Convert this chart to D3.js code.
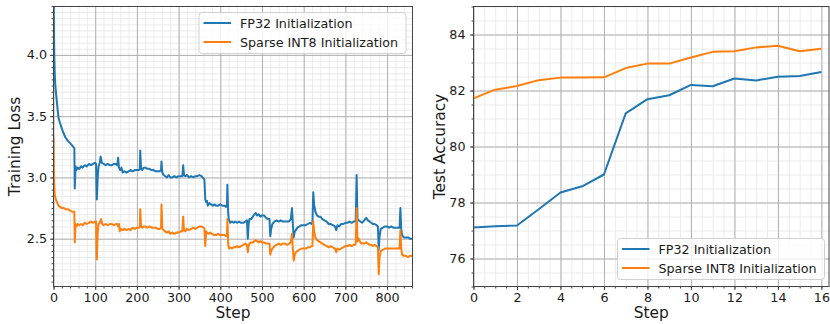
<!DOCTYPE html>
<html>
<head>
<meta charset="utf-8">
<script src="https://cdn.jsdelivr.net/npm/d3@7"></script>
<style>
  body { margin: 0; background: #fff; }
  svg { display: block; font-family: "DejaVu Sans", sans-serif; }
  .tick text { fill: #1a1a1a; }
</style>
</head>
<body>
<svg id="chart" width="830" height="324"></svg>
<script>
// series names and colours
var seriesNames = ["FP32 Initialization", "Sparse INT8 Initialization"];
var seriesColors = ["#1f77b4", "#ff7f0e"];

// left panel: training loss, [step, loss]
var fp32Loss = [[0,4.62],[1,4.25],[2,3.98],[3,3.85],[4,3.77],[6,3.69],[8,3.62],[10,3.55],[12,3.49],[15,3.45],[18,3.42],[22,3.38],[28,3.33],[34,3.30],[40,3.28],[45,3.26],[50,3.24],[51,2.91],[53,3.09],[55,3.06],[58,3.08],[62,3.07],[66,3.09],[70,3.08],[75,3.10],[80,3.09],[85,3.11],[90,3.10],[95,3.11],[100,3.12],[102,3.11],[104,2.82],[106,3.00],[108,3.09],[111,3.12],[113,3.17],[116,3.12],[120,3.11],[125,3.10],[130,3.11],[135,3.10],[140,3.10],[145,3.11],[150,3.11],[153,3.10],[155,3.16],[157,3.08],[160,3.06],[163,3.08],[166,3.04],[170,3.05],[175,3.04],[180,3.05],[185,3.06],[190,3.05],[195,3.06],[200,3.06],[205,3.06],[207,3.07],[208,3.22],[210,3.07],[213,3.06],[216,3.08],[220,3.08],[225,3.07],[230,3.07],[235,3.06],[240,3.06],[245,3.05],[250,3.05],[255,3.05],[258,3.06],[259,3.13],[261,3.04],[264,3.02],[268,3.01],[272,3.00],[276,3.02],[280,3.00],[285,3.00],[290,3.01],[295,3.00],[300,3.01],[305,3.01],[309,3.01],[311,3.10],[313,3.02],[316,3.01],[320,3.02],[325,3.00],[330,3.01],[335,3.00],[340,3.01],[345,3.01],[350,3.02],[355,3.01],[360,2.99],[362,2.98],[364,2.82],[366,2.80],[368,2.81],[370,2.77],[374,2.79],[378,2.78],[382,2.77],[386,2.78],[390,2.77],[395,2.77],[400,2.78],[405,2.77],[410,2.77],[414,2.76],[416,2.78],[417,2.94],[419,2.70],[421,2.65],[424,2.63],[428,2.64],[432,2.63],[436,2.64],[440,2.63],[445,2.64],[450,2.63],[455,2.63],[460,2.64],[464,2.65],[466,2.50],[468,2.62],[470,2.66],[474,2.66],[478,2.68],[482,2.70],[485,2.71],[488,2.69],[492,2.70],[496,2.68],[500,2.69],[505,2.69],[510,2.67],[515,2.66],[518,2.66],[520,2.52],[522,2.58],[525,2.62],[530,2.64],[535,2.65],[540,2.64],[545,2.65],[550,2.64],[555,2.64],[560,2.64],[565,2.64],[569,2.66],[572,2.75],[574,2.62],[576,2.51],[578,2.55],[581,2.57],[585,2.59],[590,2.60],[595,2.61],[600,2.61],[605,2.61],[610,2.62],[615,2.63],[619,2.62],[621,2.63],[623,2.88],[625,2.78],[628,2.72],[632,2.69],[636,2.68],[640,2.68],[645,2.66],[650,2.65],[655,2.64],[660,2.62],[665,2.62],[670,2.61],[675,2.60],[678,2.57],[681,2.61],[685,2.60],[690,2.62],[695,2.62],[700,2.63],[705,2.63],[710,2.64],[715,2.63],[720,2.64],[724,2.64],[725,2.66],[727,3.02],[729,2.66],[732,2.65],[736,2.64],[740,2.63],[745,2.65],[750,2.67],[754,2.65],[758,2.64],[762,2.63],[766,2.62],[770,2.62],[775,2.61],[778,2.60],[780,2.41],[782,2.52],[785,2.58],[790,2.59],[795,2.60],[800,2.60],[805,2.59],[810,2.60],[815,2.59],[820,2.59],[825,2.59],[830,2.59],[832,2.75],[834,2.58],[836,2.53],[840,2.51],[845,2.51],[850,2.51],[855,2.50],[861,2.50]];

var int8Loss = [[0,3.33],[1,3.05],[2,2.92],[3,2.86],[5,2.83],[8,2.80],[12,2.77],[16,2.76],[20,2.75],[25,2.75],[30,2.74],[35,2.74],[40,2.73],[45,2.72],[50,2.72],[51,2.47],[53,2.62],[55,2.60],[58,2.62],[62,2.61],[66,2.62],[70,2.61],[75,2.63],[80,2.62],[85,2.63],[90,2.64],[95,2.63],[100,2.64],[102,2.64],[104,2.33],[106,2.55],[108,2.62],[111,2.63],[114,2.66],[117,2.62],[120,2.61],[125,2.62],[130,2.61],[135,2.62],[140,2.62],[145,2.61],[150,2.62],[153,2.62],[155,2.60],[157,2.62],[159,2.56],[162,2.58],[166,2.57],[170,2.58],[175,2.57],[180,2.58],[185,2.57],[190,2.59],[195,2.58],[200,2.59],[205,2.59],[207,2.60],[208,2.74],[210,2.60],[213,2.59],[216,2.60],[220,2.60],[225,2.59],[230,2.60],[235,2.59],[240,2.59],[245,2.59],[250,2.58],[255,2.58],[258,2.59],[259,2.78],[261,2.58],[264,2.57],[268,2.56],[272,2.55],[276,2.56],[280,2.54],[285,2.55],[290,2.54],[295,2.55],[300,2.55],[305,2.56],[309,2.56],[311,2.68],[313,2.57],[316,2.56],[320,2.58],[325,2.57],[330,2.58],[335,2.59],[340,2.58],[345,2.59],[350,2.60],[355,2.60],[360,2.59],[362,2.58],[364,2.44],[366,2.56],[368,2.55],[372,2.54],[376,2.55],[380,2.54],[385,2.53],[390,2.53],[395,2.54],[400,2.53],[405,2.53],[410,2.53],[414,2.52],[416,2.53],[417,2.66],[419,2.45],[421,2.42],[424,2.43],[428,2.42],[432,2.43],[436,2.43],[440,2.44],[445,2.43],[450,2.44],[455,2.45],[460,2.46],[464,2.45],[466,2.39],[468,2.44],[470,2.46],[474,2.47],[478,2.47],[482,2.48],[485,2.49],[488,2.48],[492,2.47],[496,2.48],[500,2.47],[505,2.47],[510,2.46],[515,2.46],[518,2.46],[520,2.37],[522,2.40],[525,2.42],[530,2.44],[535,2.45],[540,2.46],[545,2.45],[550,2.46],[555,2.46],[560,2.45],[565,2.46],[569,2.47],[572,2.54],[574,2.42],[576,2.32],[578,2.36],[581,2.39],[585,2.40],[590,2.41],[595,2.42],[600,2.42],[605,2.42],[610,2.43],[615,2.43],[619,2.44],[621,2.44],[623,2.64],[625,2.56],[628,2.51],[632,2.49],[636,2.48],[640,2.47],[645,2.46],[650,2.45],[655,2.44],[660,2.43],[665,2.44],[670,2.43],[675,2.42],[678,2.39],[681,2.42],[685,2.41],[690,2.42],[695,2.43],[700,2.44],[705,2.44],[710,2.45],[715,2.44],[720,2.45],[724,2.45],[725,2.47],[727,2.75],[729,2.48],[732,2.50],[736,2.47],[740,2.46],[745,2.46],[750,2.47],[754,2.46],[758,2.45],[762,2.45],[766,2.44],[770,2.45],[775,2.44],[778,2.43],[780,2.21],[782,2.35],[785,2.40],[790,2.41],[795,2.42],[800,2.42],[805,2.42],[810,2.42],[815,2.42],[820,2.42],[825,2.42],[830,2.42],[832,2.57],[834,2.42],[836,2.37],[840,2.36],[845,2.36],[850,2.35],[855,2.36],[861,2.36]];

// right panel: test accuracy per step 0..16
var accSteps = [0,1,2,3,4,5,6,7,8,9,10,11,12,13,14,15,16];
var fp32Acc = [77.11,77.15,77.18,77.76,78.36,78.58,79.0,81.18,81.69,81.83,82.2,82.15,82.43,82.36,82.49,82.52,82.66];
var int8Acc = [81.72,82.03,82.16,82.37,82.46,82.46,82.47,82.8,82.96,82.96,83.18,83.38,83.4,83.54,83.6,83.4,83.49];

// tick labels
var lossXTicks = [0,100,200,300,400,500,600,700,800];
var lossYTicks = [2.5,3.0,3.5,4.0];
var accXTicks = [0,2,4,6,8,10,12,14,16];
var accYTicks = [76,78,80,82,84];

var svg = d3.select("#chart");
svg.append("rect").attr("width", 830).attr("height", 324).attr("fill", "#fff");

function drawPanel(opt) {
  var x = d3.scaleLinear().domain(opt.xDomain).range([opt.left, opt.right]);
  var y = d3.scaleLinear().domain(opt.yDomain).range([opt.bottom, opt.top]);
  var w = opt.right - opt.left;
  var h = opt.bottom - opt.top;
  var g = svg.append("g");

  // minor grid
  g.append("g").attr("transform", "translate(0," + opt.bottom + ")")
    .call(d3.axisBottom(x).tickValues(opt.xMinor).tickSize(-h).tickFormat(""))
    .call(s => s.select(".domain").remove())
    .selectAll("line").attr("stroke", "#e6e6e6").attr("stroke-width", 0.8);
  g.append("g").attr("transform", "translate(" + opt.left + ",0)")
    .call(d3.axisLeft(y).tickValues(opt.yMinor).tickSize(-w).tickFormat(""))
    .call(s => s.select(".domain").remove())
    .selectAll("line").attr("stroke", "#e6e6e6").attr("stroke-width", 0.8);
  // major grid
  g.append("g").attr("transform", "translate(0," + opt.bottom + ")")
    .call(d3.axisBottom(x).tickValues(opt.xTicks).tickSize(-h).tickFormat(""))
    .call(s => s.select(".domain").remove())
    .selectAll("line").attr("stroke", "#b0b0b0").attr("stroke-width", 1);
  g.append("g").attr("transform", "translate(" + opt.left + ",0)")
    .call(d3.axisLeft(y).tickValues(opt.yTicks).tickSize(-w).tickFormat(""))
    .call(s => s.select(".domain").remove())
    .selectAll("line").attr("stroke", "#b0b0b0").attr("stroke-width", 1);

  // lines
  var clipId = "clip_" + opt.id;
  svg.append("clipPath").attr("id", clipId).append("rect")
    .attr("x", opt.left).attr("y", opt.top).attr("width", w).attr("height", h);
  var line = d3.line().x(d => x(d[0])).y(d => y(d[1]));
  opt.series.forEach((data, i) => {
    g.append("path").attr("clip-path", "url(#" + clipId + ")")
      .attr("d", line(data))
      .attr("fill", "none")
      .attr("stroke", seriesColors[i])
      .attr("stroke-width", 2)
      .attr("stroke-linejoin", "round");
  });

  // spines
  g.append("rect").attr("x", opt.left).attr("y", opt.top)
    .attr("width", w).attr("height", h)
    .attr("fill", "none").attr("stroke", "#444").attr("stroke-width", 1);

  // minor ticks
  g.append("g").attr("transform", "translate(0," + opt.bottom + ")")
    .call(d3.axisBottom(x).tickValues(opt.xMinor).tickSize(2).tickFormat(""))
    .call(s => s.select(".domain").remove())
    .selectAll("line").attr("stroke", "#444");
  g.append("g").attr("transform", "translate(" + opt.left + ",0)")
    .call(d3.axisLeft(y).tickValues(opt.yMinor).tickSize(2).tickFormat(""))
    .call(s => s.select(".domain").remove())
    .selectAll("line").attr("stroke", "#444");
  // major ticks + labels
  var xa = g.append("g").attr("transform", "translate(0," + opt.bottom + ")")
    .call(d3.axisBottom(x).tickValues(opt.xTicks).tickSize(3.5).tickPadding(2.5).tickFormat(d3.format("d")));
  xa.select(".domain").remove();
  xa.selectAll("line").attr("stroke", "#444");
  xa.selectAll("text").attr("font-size", "12.7px").attr("font-family", "DejaVu Sans");
  var ya = g.append("g").attr("transform", "translate(" + opt.left + ",0)")
    .call(d3.axisLeft(y).tickValues(opt.yTicks).tickSize(3.5).tickPadding(opt.yPad).tickFormat(opt.yFmt));
  ya.select(".domain").remove();
  ya.selectAll("line").attr("stroke", "#444");
  ya.selectAll("text").attr("font-size", "12.7px").attr("font-family", "DejaVu Sans");

  // axis labels
  g.append("text").attr("x", (opt.left + opt.right) / 2).attr("y", 318)
    .attr("text-anchor", "middle").attr("font-size", "15.4px").attr("fill", "#1a1a1a")
    .text("Step");
  g.append("text")
    .attr("transform", "translate(" + opt.ylabelX + "," + ((opt.top + opt.bottom) / 2) + ") rotate(-90)")
    .attr("text-anchor", "middle").attr("font-size", "15.4px").attr("fill", "#1a1a1a")
    .text(opt.ylabel);

  // legend
  var lg = g.append("g").attr("transform", "translate(" + opt.legend[0] + "," + opt.legend[1] + ")");
  lg.append("rect").attr("x", 0).attr("y", 0).attr("width", 207).attr("height", 41)
    .attr("rx", 3).attr("fill", "#fff").attr("fill-opacity", 0.8)
    .attr("stroke", "#d0d0d0").attr("stroke-width", 1);
  seriesNames.forEach((name, i) => {
    var yy = 10.5 + i * 19;
    lg.append("line").attr("x1", 4.5).attr("x2", 32).attr("y1", yy).attr("y2", yy)
      .attr("stroke", seriesColors[i]).attr("stroke-width", 2);
    lg.append("text").attr("x", 41).attr("y", yy).attr("dy", "0.36em")
      .attr("font-size", "12.7px").attr("fill", "#1a1a1a").text(name);
  });
}

drawPanel({
  id: "loss",
  left: 53.5, right: 412.5, top: 6.5, bottom: 286.5,
  xDomain: [0, 861], yDomain: [2.11, 4.395],
  xTicks: lossXTicks, yTicks: lossYTicks,
  xMinor: d3.range(0, 861, 20), yMinor: d3.range(2.15, 4.4, 0.05),
  yFmt: d3.format(".1f"), yPad: 3,
  series: [fp32Loss, int8Loss],
  ylabel: "Training Loss", ylabelX: 19.5,
  legend: [199, 12.5]
});

drawPanel({
  id: "acc",
  left: 473.5, right: 829, top: 6.5, bottom: 286.5,
  xDomain: [0, 16.35], yDomain: [75, 85],
  xTicks: accXTicks, yTicks: accYTicks,
  xMinor: d3.range(0, 16.4, 0.5), yMinor: d3.range(75, 85.01, 0.5),
  yFmt: d3.format("d"), yPad: 4.5,
  series: [accSteps.map((s, i) => [s, fp32Acc[i]]), accSteps.map((s, i) => [s, int8Acc[i]])],
  ylabel: "Test Accuracy", ylabelX: 444.5,
  legend: [617.5, 238.5]
});
</script>
</body>
</html>
